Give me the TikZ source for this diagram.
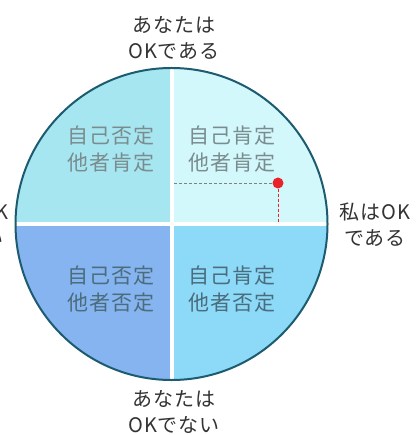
\documentclass[tikz,border=0pt]{standalone}
\usepackage{fontspec}
\setmainfont{Noto Sans CJK JP}
\newfontfamily\jpfont[LetterSpace=4]{Noto Sans CJK JP}
\definecolor{qtl}{HTML}{A6E6F0}
\definecolor{qtr}{HTML}{D2F8FC}
\definecolor{qbl}{HTML}{86B4F0}
\definecolor{qbr}{HTML}{8CDAF8}
\definecolor{rim}{HTML}{1D5C70}
\definecolor{txtlight}{HTML}{7A8C8E}
\definecolor{txtdark}{HTML}{4A6C7C}
\definecolor{lbl}{HTML}{333333}
\definecolor{dotred}{HTML}{E8242A}
\tikzset{
  quadtext/.style={font=\jpfont\fontsize{21}{27}\selectfont, align=center, inner sep=0pt},
  outlabel/.style={font=\jpfont\fontsize{20}{26}\selectfont, align=center, inner sep=0pt, text=lbl},
}
\begin{document}
\begin{tikzpicture}[x=1pt,y=-1pt]
\useasboundingbox (0,0) rectangle (415,435);
\fill[white] (0,0) rectangle (415,435);
\coordinate (c) at (171.5,224);
\begin{scope}
  \clip (c) circle (156);
  \fill[qtl] (0,0) rectangle (171.5,224);
  \fill[qtr] (171.5,0) rectangle (415,224);
  \fill[qbl] (0,224) rectangle (171.5,435);
  \fill[qbr] (171.5,224) rectangle (415,435);
  \draw[white, line width=4pt] (171.5,60) -- (171.5,390);
  \draw[white, line width=4pt] (10,224) -- (335,224);
\end{scope}
\draw[rim, line width=2pt] (c) circle (156);
\node[quadtext, text=txtlight] (tl) at (111,149) {自己否定\\他者肯定};
\node[quadtext, text=txtlight] (tr) at (232,149) {自己肯定\\他者肯定};
\node[quadtext, text=txtdark] (bl) at (111,289) {自己否定\\他者否定};
\node[quadtext, text=txtdark] (br) at (232,289) {自己肯定\\他者否定};
\node[outlabel] (top) at (174,38) {あなたは\\OKである};
\node[outlabel] (bot) at (174,412) {あなたは\\OKでない};
\node[outlabel] (right) at (375,225) {私はOK\\である};
\node[outlabel] (left) at (-27,225) {私はOK\\でない};
\node[circle, fill=dotred, inner sep=0pt, minimum size=11pt] (dot) at (278,183) {};
\coordinate (hstart) at (174,183);
\coordinate (vend) at (278,222);
\draw[gray, dashed, line width=0.8pt, dash pattern=on 3pt off 2pt] (hstart) -- (dot.west);
\draw[dotred, dashed, line width=1pt, dash pattern=on 3pt off 2pt] (dot.south) -- (vend);
\end{tikzpicture}
\end{document}
